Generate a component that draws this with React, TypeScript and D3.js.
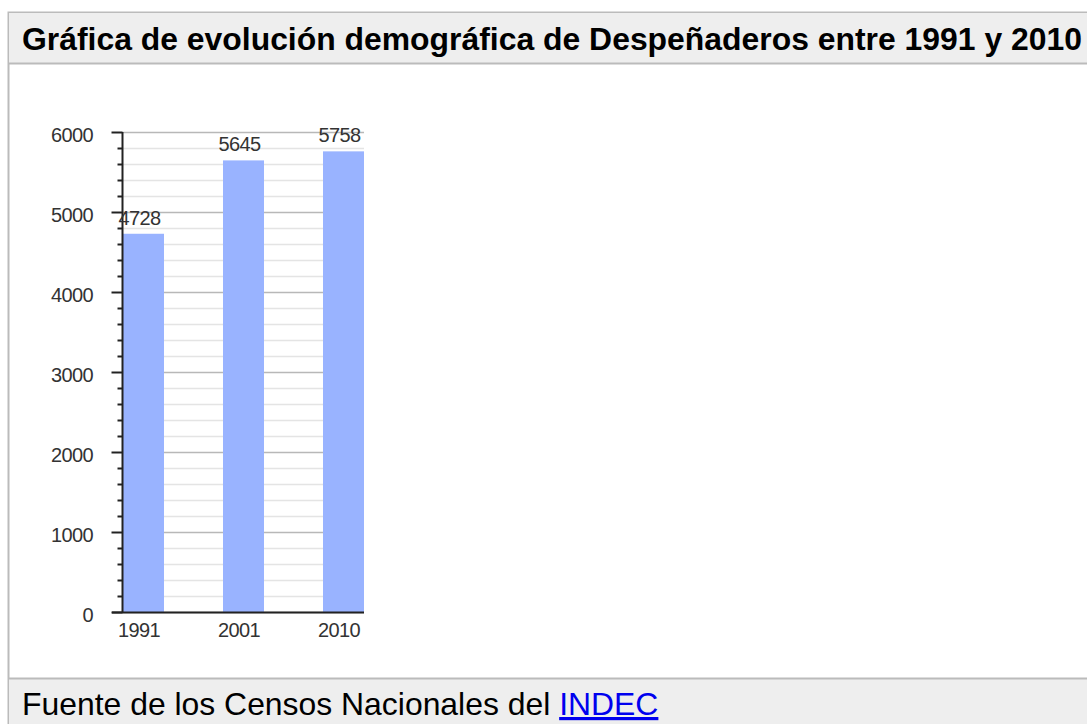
import React, { useEffect, useRef } from 'react';
import * as d3 from 'd3';

const years: string[] = ['1991', '2001', '2010'];
const population: number[] = [4728, 5645, 5758];
const yTicks: number[] = [0, 1000, 2000, 3000, 4000, 5000, 6000];

const titleText = 'Gráfica de evolución demográfica de Despeñaderos entre 1991 y 2010';

const App: React.FC = () => {
  const chartRef = useRef<SVGSVGElement | null>(null);

  useEffect(() => {
    if (!chartRef.current) return;
    const W = 1087;
    const H = 724;
    const font = '"Liberation Sans", Arial, Helvetica, sans-serif';

    d3.select(chartRef.current).selectAll('*').remove();
    const svg = d3.select(chartRef.current).attr('width', W).attr('height', H);

    // frame
    svg.append('rect').attr('x', 8.5).attr('y', 12.5).attr('width', W).attr('height', H)
      .attr('fill', '#fff').attr('stroke', '#bbb').attr('stroke-width', 2);
    svg.append('rect').attr('x', 9).attr('y', 13).attr('width', W).attr('height', 50).attr('fill', '#eeeeee');
    svg.append('line').attr('x1', 9).attr('x2', W).attr('y1', 63.5).attr('y2', 63.5)
      .attr('stroke', '#bbb').attr('stroke-width', 2);
    svg.append('rect').attr('x', 9).attr('y', 679).attr('width', W).attr('height', 60).attr('fill', '#eeeeee');
    svg.append('line').attr('x1', 9).attr('x2', W).attr('y1', 678.5).attr('y2', 678.5)
      .attr('stroke', '#bbb').attr('stroke-width', 2);

    svg.append('text').attr('x', 22).attr('y', 50).text(titleText)
      .attr('font-family', font).attr('font-size', 31.9).attr('font-weight', 'bold').attr('fill', '#000');

    const foot = svg.append('text').attr('x', 22).attr('y', 715)
      .attr('font-family', font).attr('font-size', 31.9).attr('fill', '#000');
    foot.append('tspan').text('Fuente de los Censos Nacionales del ');
    foot.append('tspan').text('INDEC').attr('fill', '#0000ee').attr('text-decoration', 'underline');

    // chart
    const left = 122.5;
    const right = 364;
    const x = d3.scaleBand<string>().domain(years).range([left, left + 300]).padding(0);
    const barW = 41;
    const y = d3.scaleLinear().domain([0, 6000]).range([612, 132]);

    const minor = d3.range(0, 6001, 200);
    const chart = svg.append('g');

    chart.selectAll('.grid').data(minor).enter().append('line')
      .attr('x1', left).attr('x2', right)
      .attr('y1', (d) => Math.round(y(d)) + 0.5).attr('y2', (d) => Math.round(y(d)) + 0.5)
      .attr('stroke', (d) => (d % 1000 === 0 ? '#b8b8b8' : '#e4e4e4'))
      .attr('stroke-width', 1.5);

    chart.selectAll('.bar').data(population).enter().append('rect')
      .attr('x', (_d, i) => (x(years[i]) || 0) + 0.5)
      .attr('y', (d) => y(d))
      .attr('width', barW)
      .attr('height', (d) => y(0) - y(d))
      .attr('fill', '#99b3ff');

    // y axis
    chart.append('line').attr('x1', left).attr('x2', left).attr('y1', y(6000)).attr('y2', y(0))
      .attr('stroke', '#222').attr('stroke-width', 2);
    chart.selectAll('.tick').data(minor).enter().append('line')
      .attr('x1', (d) => (d % 1000 === 0 ? left - 11 : left - 5)).attr('x2', left)
      .attr('y1', (d) => Math.round(y(d)) + 0.5).attr('y2', (d) => Math.round(y(d)) + 0.5)
      .attr('stroke', '#222').attr('stroke-width', 2);
    chart.selectAll('.ylab').data(yTicks).enter().append('text')
      .attr('x', 93).attr('y', (d) => y(d) + 10)
      .attr('text-anchor', 'end').attr('font-family', font).attr('font-size', 20)
      .attr('letter-spacing', -0.6)
      .attr('fill', '#333').text((d) => String(d));

    // x axis
    chart.append('line').attr('x1', 112).attr('x2', right).attr('y1', y(0) + 0.5).attr('y2', y(0) + 0.5)
      .attr('stroke', '#222').attr('stroke-width', 2);
    chart.selectAll('.xlab').data(years).enter().append('text')
      .attr('x', (d) => (x(d) || 0) + barW / 2 - 4).attr('y', 637)
      .attr('text-anchor', 'middle').attr('font-family', font).attr('font-size', 20)
      .attr('letter-spacing', -0.6)
      .attr('fill', '#333').text((d) => d);

    // value labels
    chart.selectAll('.vlab').data(population).enter().append('text')
      .attr('x', (_d, i) => (x(years[i]) || 0) + barW / 2 - 3.5)
      .attr('y', (d) => y(d) - 9)
      .attr('text-anchor', 'middle').attr('font-family', font).attr('font-size', 20)
      .attr('letter-spacing', -0.6)
      .attr('fill', '#333').text((d) => String(d));
  }, []);

  return <svg ref={chartRef} style={{ position: 'absolute', left: 0, top: 0 }}></svg>;
};

export default App;
